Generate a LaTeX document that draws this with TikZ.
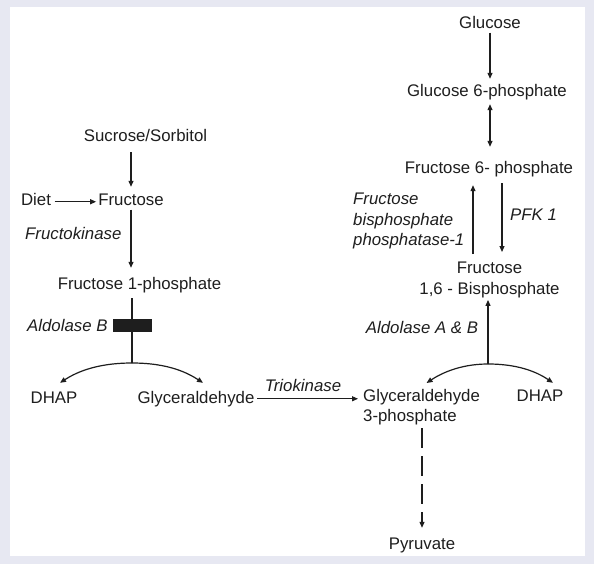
\documentclass[tikz,border=0pt]{standalone}
\usepackage{fontspec}
\setmainfont{Liberation Sans}
\usetikzlibrary{arrows.meta}

\definecolor{rim}{HTML}{E7E8F2}
\definecolor{ink}{HTML}{1E1E1E}

\tikzset{
  metab/.style={anchor=base, inner sep=0pt, text height=12pt, text depth=3.5pt,
    text=ink, font=\fontsize{16.8}{20.5}\selectfont},
  metabs/.style={inner sep=0pt, align=center, text=ink, font=\fontsize{16.8}{20.5}\selectfont},
  enzyme/.style={metab, font=\fontsize{16.8}{20.5}\selectfont\itshape},
  enzymes/.style={metabs, font=\fontsize{16.8}{20.5}\selectfont\itshape},
  link/.style={draw=ink, line width=1.2pt},
  flow/.style={link, -{Triangle[length=6pt,width=5pt]}},
  flowboth/.style={link, {Triangle[length=6pt,width=5pt]}-{Triangle[length=6pt,width=5pt]}},
  dashflow/.style={flow, dash pattern=on 20pt off 8pt},
}

\begin{document}
\begin{tikzpicture}[x=1pt, y=-1pt]
    % frame
    \fill[rim] (0,0) rectangle (594,564);
    \fill[white] (10,7) rectangle (585,556);

    % glycolysis
    \node[metab] (glc) at (490, 29) {Glucose};
    \node[metab] (g6p) at (487, 97) {Glucose 6-phosphate};
    \node[metab] (f6p) at (489, 174) {Fructose 6- phosphate};
    \node[metabs, anchor=north] (f16bp) at (489.5, 262) {Fructose\\1,6 - Bisphosphate};
    \node[metabs, anchor=north west, align=left] (g3p) at (363, 389) {Glyceraldehyde\\3-phosphate};
    \node[metab] (dhapR) at (540, 401) {DHAP};
    \node[metab] (pyr) at (422, 549) {Pyruvate};

    % fructose
    \node[metab] (sucr) at (145.5, 142) {Sucrose/Sorbitol};
    \node[metab] (fru) at (131, 206) {Fructose};
    \node[metab] (diet) at (36, 206) {Diet};
    \node[metab] (f1p) at (139.5, 289) {Fructose 1-phosphate};
    \node[metab] (dhapL) at (54, 403) {DHAP};
    \node[metab] (gly) at (196, 403) {Glyceraldehyde};

    % enzymes
    \node[enzyme, anchor=base west] (frukin) at (25, 240) {Fructokinase};
    \node[enzyme, anchor=base west] (aldB) at (27, 331) {Aldolase B};
    \node[enzyme] (trio) at (303, 391) {Triokinase};
    \node[enzyme, anchor=base west] (pfk) at (510, 221) {PFK 1};
    \node[enzymes, anchor=north west, align=left] (fbpase) at (353, 193) {Fructose\\bisphosphate\\phosphatase-1};
    \node[enzyme] (aldAB) at (422, 333) {Aldolase A \& B};

    \coordinate (splitL) at (132, 363);
    \coordinate (splitR) at (488, 364);

    % fructose side
    \draw[flow, shorten <=6.5pt, shorten >=7pt] (sucr.south -| fru.north) -- (fru.north);
    \draw[flow, shorten <=3.5pt, shorten >=2pt] (diet.east) -- (fru.west);
    \draw[flow, shorten >=9pt] (fru.south) -- (fru.south |- f1p.north);
    \draw[link, shorten <=5.5pt] (f1p.south -| splitL) -- (splitL);
    \node[fill=ink, minimum width=39pt, minimum height=13pt, inner sep=0pt] (aldBbar) at (132.5, 325.5) {};
    \draw[flow] (splitL) .. controls +(-38,0) and +(14,-9) .. ([xshift=6pt, yshift=8pt]dhapL.north);
    \draw[flow] (splitL) .. controls +(38,0) and +(-14,-9) .. ([xshift=7pt, yshift=8pt]gly.north);
    \draw[flow, shorten <=2.5pt, shorten >=5pt] (gly.east) -- (gly.east -| g3p.west);

    % glycolysis side
    \draw[flow, shorten >=6pt] (glc.south) -- (glc.south |- g6p.north);
    \draw[flowboth, shorten <=3.5pt, shorten >=15pt] (g6p.south -| glc.south) -- (glc.south |- f6p.north);
    \draw[flow, shorten <=8pt, shorten >=7.5pt] ([xshift=-16.5pt]f16bp.north) -- ([xshift=-16pt]f6p.south);
    \draw[flow, shorten <=5.5pt, shorten >=10pt] ([xshift=13pt]f6p.south) -- ([xshift=12.5pt]f16bp.north);
    \draw[flow, shorten >=2pt] (splitR) -- (splitR |- f16bp.south);
    \draw[flow] (splitR) .. controls +(-30,0) and +(12,-8) .. ([xshift=5pt, yshift=6pt]g3p.north);
    \draw[flow] (splitR) .. controls +(35,0) and +(-12,-8) .. ([xshift=13pt, yshift=6pt]dhapR.north);
    \draw[dashflow, shorten <=2.5pt, shorten >=9pt] (g3p.south -| pyr.north) -- (pyr.north);
\end{tikzpicture}
\end{document}
